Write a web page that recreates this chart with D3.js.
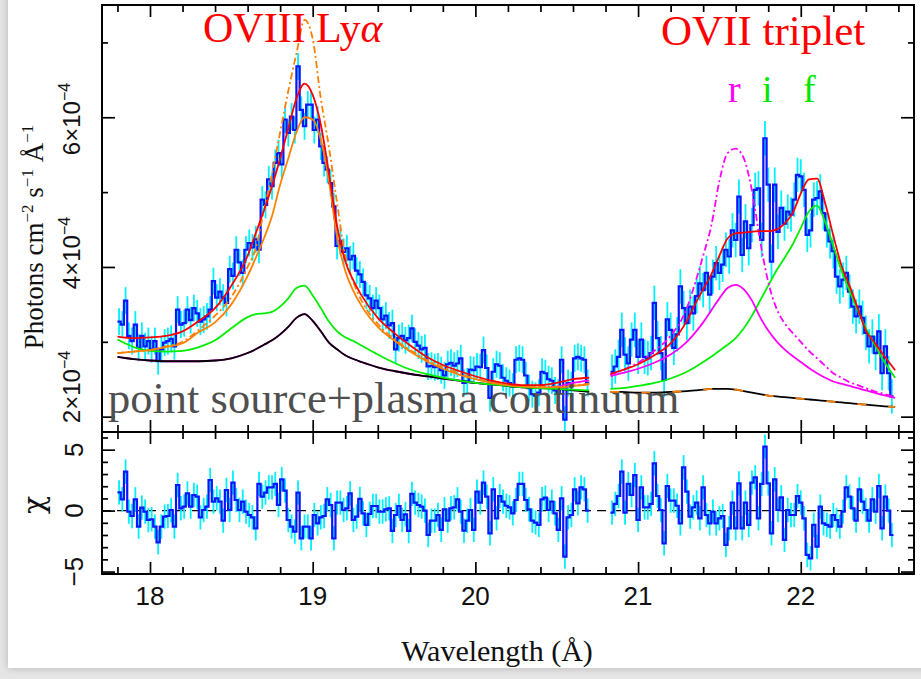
<!DOCTYPE html>
<html><head><meta charset="utf-8">
<script src="https://cdn.jsdelivr.net/npm/d3@7"></script>
<style>body{margin:0;background:#e4e4e4}svg{display:block}</style>
</head><body>
<svg id="c" width="921" height="679"></svg>
<script>
// ---------------- DATA ----------------
const binWidth = 0.02;           // Å
const seg1Start = 17.80, seg2Start = 20.83;
// observed flux, units of 1e-4 photons cm^-2 s^-1 Å^-1
const flux1 = [
3.27,3.23,3.55,3.08,3.01,3.23,2.92,3.08,2.94,3.01,
2.90,3.01,2.74,2.90,2.99,3.01,3.04,2.94,3.43,3.23,
3.25,3.43,3.29,3.45,3.38,3.27,3.30,3.34,3.43,3.81,
3.59,3.67,3.59,3.52,3.97,3.88,4.23,4.06,3.92,4.23,
4.32,4.26,4.37,4.23,4.90,4.83,5.17,5.08,5.39,5.52,
5.37,5.97,5.79,6.01,5.83,6.68,6.10,5.88,6.17,6.17,
5.83,5.97,5.61,5.39,5.30,5.12,4.81,4.28,
4.35,4.20,4.25,4.10,4.15,3.95,3.90,3.80,3.62,3.58,
3.45,3.55,3.45,3.30,3.35,3.22,3.25,2.90,3.05,3.08,
3.02,3.05,3.18,3.00,2.95,2.90,2.92,2.67,2.68,2.66,
2.67,2.62,2.55,2.70,2.72,2.68,2.71,2.78,2.45,2.47,
2.63,2.62,2.67,2.66,2.89,2.65,2.25,2.60,2.70,2.68,
2.52,2.48,2.45,2.40,2.76,2.78,2.76,2.55,2.38,2.30,
2.28,2.32,2.60,2.58,2.50,2.48,2.35,2.32,2.76,1.96,
2.45,2.42,2.78,2.80,2.78,2.76,2.45];
const flux2 = [
2.60,2.67,2.80,3.16,2.83,2.71,3.03,3.16,2.80,3.03,
2.80,2.78,2.85,3.52,3.05,2.85,2.49,3.30,3.16,2.92,
3.10,3.74,3.45,3.25,3.47,3.38,3.61,3.78,3.69,3.92,
3.63,3.87,4.05,3.92,4.03,4.23,4.14,4.49,4.36,4.94,
4.16,4.61,4.25,4.56,5.03,5.05,4.36,5.72,5.10,4.07,
5.10,4.47,4.79,4.58,4.74,4.70,4.90,5.23,5.21,5.03,
4.43,4.49,4.90,4.92,5.01,4.72,4.49,4.34,4.21,3.87,
3.74,3.83,3.92,3.67,3.47,3.34,3.47,3.32,3.12,2.94,
3.07,2.85,3.14,2.58,2.94,2.58,2.27];
const fluxErr1 = 0.18, fluxErr2 = 0.23;
// residuals (chi)
const chi1 = [
1.50,0.93,3.20,-0.08,-0.44,0.93,-1.31,0.25,-0.08,-0.77,
-0.71,-1.31,-2.60,-1.31,-0.49,-0.44,0.05,-1.31,2.10,0.19,
0.33,1.42,0.33,1.28,1.15,-0.55,0.05,0.33,2.51,0.74,
1.01,0.74,-0.82,1.69,0.05,2.30,0.87,0.05,0.74,-0.08,
-0.36,-0.55,-1.45,2.19,1.15,1.48,1.91,1.91,2.19,0.46,
2.57,1.64,-0.77,-1.31,-1.72,1.48,-2.27,-1.31,-1.31,-2.27,
-0.36,-1.04,-0.55,-0.44,0.93,0.46,-2.27,0.66,
0.66,0.05,0.19,1.42,-0.77,-0.49,0.96,-0.22,-1.17,-0.27,
0.38,0.38,-0.08,-0.08,0.11,0.19,-1.67,-0.36,0.38,-0.77,
-0.30,-1.67,1.37,0.66,0.46,0.33,0.00,-2.00,-0.82,-0.82,
-0.36,-1.58,0.11,-0.82,0.19,0.27,0.93,-0.08,-1.64,-0.82,
0.05,-1.58,1.56,0.66,2.30,1.15,-1.86,1.75,-0.63,1.20,
0.74,0.40,0.27,-0.22,0.87,2.19,2.19,0.87,0.11,-0.82,
-0.98,-1.17,0.93,1.07,0.05,0.74,-0.22,-1.58,1.01,-3.77,
-0.55,-0.36,1.75,0.60,1.91,1.75,0.00];
const chi2 = [
-0.16,0.55,1.20,3.20,-0.16,2.19,1.28,2.92,-0.77,1.91,
0.27,0.27,0.55,3.88,1.20,0.05,-2.68,2.02,0.82,0.82,
0.40,-1.04,3.55,1.56,-0.49,0.27,0.66,-0.63,1.91,-0.36,
-1.04,-0.08,-1.04,-0.63,-0.44,-2.81,-1.45,0.66,-1.45,2.24,
-1.45,0.66,-1.17,2.30,2.73,-0.63,2.19,5.25,2.24,-1.86,
2.57,0.05,1.09,-2.40,0.05,-0.36,-0.36,1.20,0.66,-0.63,
-3.63,-3.91,-1.17,-2.95,0.33,-1.04,-1.17,-1.31,-0.36,-0.77,
-1.31,-0.08,1.91,1.15,0.19,-0.82,1.75,0.74,0.05,-0.82,
0.93,-0.08,2.02,-1.45,1.15,0.00,-2.00];

// model components (OVIII region)
const modelWave1 = [17.80,17.90,18.00,18.10,18.20,18.30,18.40,18.50,18.60,18.65,18.70,18.75,18.80,18.85,18.90,18.95,19.00,19.05,19.10,19.15,19.20,19.25,19.30,19.40,19.50,19.60,19.70,19.80,19.90,20.00,20.10,20.20,20.30,20.40,20.50,20.60,20.70];
const total1   = [3.07,3.05,3.06,3.08,3.14,3.28,3.45,3.75,4.15,4.45,4.75,5.08,5.45,5.85,6.25,6.45,6.30,5.90,5.25,4.55,4.08,3.82,3.62,3.32,3.12,2.95,2.80,2.69,2.61,2.54,2.48,2.44,2.42,2.42,2.45,2.50,2.52];
const orange1  = [2.85,2.87,2.89,2.93,2.98,3.13,3.26,3.50,3.88,4.12,4.38,4.68,5.10,5.45,5.80,6.00,5.97,5.70,5.15,4.40,3.95,3.68,3.48,3.20,3.02,2.87,2.74,2.64,2.56,2.50,2.45,2.42,2.40,2.39,2.39,2.41,2.43];
const orangeDD1= [2.85,2.87,2.89,2.94,3.00,3.16,3.35,3.60,4.00,4.25,4.75,5.25,5.80,6.35,6.85,7.30,7.05,6.25,5.60,4.85,4.15,3.80,3.55,3.24,3.04,2.89,2.76,2.66,2.58,2.51,2.46,2.43,2.41,2.40,2.40,2.42,2.44];
const green1   = [3.03,2.93,2.88,2.87,2.88,2.93,3.02,3.18,3.33,3.37,3.38,3.40,3.47,3.58,3.72,3.75,3.62,3.45,3.27,3.14,3.06,3.01,2.95,2.83,2.72,2.63,2.57,2.52,2.48,2.45,2.43,2.41,2.39,2.38,2.37,2.36,2.35];
const magenta1 = [2.80,2.77,2.75,2.74,2.74,2.74,2.75,2.78,2.85,2.90,2.96,3.02,3.10,3.20,3.32,3.37,3.28,3.14,2.99,2.90,2.82,2.77,2.73,2.66,2.61,2.57,2.54,2.51,2.48,2.45,2.43,2.41,2.39,2.38,2.40,2.45,2.48];
const black1   = [2.80,2.77,2.75,2.74,2.74,2.74,2.75,2.78,2.85,2.90,2.96,3.02,3.10,3.20,3.32,3.37,3.28,3.14,2.99,2.90,2.82,2.77,2.73,2.66,2.61,2.57,2.54,2.51,2.48,2.45,2.43,2.41,2.39,2.38,2.37,2.35,2.33];
// model components (OVII triplet region)
const modelWave2 = [20.83,20.90,21.00,21.10,21.20,21.30,21.35,21.40,21.45,21.50,21.55,21.60,21.65,21.70,21.75,21.80,21.85,21.90,21.95,22.00,22.05,22.10,22.15,22.20,22.25,22.30,22.35,22.40,22.45,22.50,22.58];
const total2     = [2.57,2.62,2.70,2.82,2.98,3.28,3.50,3.70,3.90,4.15,4.38,4.45,4.46,4.47,4.48,4.48,4.50,4.58,4.72,4.98,5.17,5.18,4.85,4.42,4.02,3.75,3.45,3.15,3.00,2.85,2.62];
const green2     = [2.37,2.38,2.41,2.45,2.51,2.60,2.66,2.73,2.80,2.88,2.96,3.05,3.18,3.35,3.55,3.75,3.95,4.12,4.30,4.52,4.74,4.82,4.60,4.28,3.95,3.68,3.42,3.18,2.98,2.78,2.52];
const magenta2   = [2.54,2.58,2.64,2.72,2.83,3.00,3.12,3.26,3.42,3.58,3.72,3.76,3.70,3.55,3.33,3.15,3.01,2.90,2.81,2.73,2.65,2.58,2.52,2.47,2.44,2.41,2.38,2.35,2.32,2.29,2.25];
const magentaDD2 = [2.56,2.62,2.72,2.88,3.08,3.45,3.78,4.15,4.55,5.15,5.52,5.58,5.45,5.02,4.35,3.80,3.45,3.25,3.12,3.00,2.88,2.78,2.68,2.58,2.52,2.46,2.42,2.38,2.34,2.31,2.27];
const black2     = [2.33,2.33,2.32,2.32,2.33,2.34,2.35,2.36,2.37,2.37,2.37,2.36,2.34,2.32,2.30,2.28,2.27,2.26,2.25,2.24,2.23,2.22,2.21,2.20,2.19,2.18,2.17,2.16,2.15,2.14,2.13];
const orange2    = [2.33,2.33,2.32,2.32,2.33,2.34,2.35,2.36,2.37,2.37,2.37,2.36,2.34,2.32,2.30,2.28,2.27,2.26,2.25,2.24,2.23,2.22,2.21,2.20,2.19,2.18,2.17,2.16,2.15,2.14,2.13];

const xMajorTicks = [18,19,20,21,22];
const fluxTickLabels = [2,4,6];
const chiTickLabels = [-5,0,5];

// ---------------- LAYOUT ----------------
const W = 921, H = 679;
const L = 102, R = 914, T = 5, M = 432, B = 574;
const svg = d3.select('#c');
const defs = svg.append('defs');
const f = defs.append('filter').attr('id','sh').attr('x','-5%').attr('y','-5%').attr('width','110%').attr('height','110%');
f.append('feDropShadow').attr('dx',0).attr('dy',0).attr('stdDeviation',4).attr('flood-color','#888').attr('flood-opacity',0.55);
svg.append('rect').attr('width',W).attr('height',H).attr('fill','#e6e6e6');
svg.append('rect').attr('x',8).attr('y',-30).attr('width',W+30).attr('height',698).attr('fill','#fff').attr('filter','url(#sh)');

const x = d3.scaleLinear().domain([17.705, 22.696]).range([L, R]);
const yU = d3.scaleLinear().domain([1.795, 7.50]).range([M, T]);
const yL = d3.scaleLinear().domain([-5.2, 6.45]).range([B, M]);
const fluxLabelScale = d3.scaleLinear().domain([2, 6]).range([387, 119]);

defs.append('clipPath').attr('id','cu').append('rect').attr('x',L).attr('y',T).attr('width',R-L).attr('height',M-T);
defs.append('clipPath').attr('id','cl').append('rect').attr('x',L).attr('y',M).attr('width',R-L).attr('height',B-M);

const gU = svg.append('g').attr('clip-path','url(#cu)');
const gL = svg.append('g').attr('clip-path','url(#cl)');

function stepPts(start, vals){
  const p = vals.map((v,i)=>[start + i*binWidth, v]);
  p.push([start + vals.length*binWidth, vals[vals.length-1]]);
  return p;
}
function drawData(g, ys, start, vals, err){
  g.append('g').selectAll('line').data(vals).join('line')
    .attr('x1',(d,i)=>x(start+(i+0.5)*binWidth)).attr('x2',(d,i)=>x(start+(i+0.5)*binWidth))
    .attr('y1',d=>ys(d - err)).attr('y2',d=>ys(d + err))
    .attr('stroke','#00f0ff').attr('stroke-width',1.8);
}
function drawStep(g, ys, start, vals){
  g.append('path').attr('d', d3.line().x(d=>x(d[0])).y(d=>ys(d[1])).curve(d3.curveStepAfter)(stepPts(start, vals)))
    .attr('fill','none').attr('stroke','#0a14ff').attr('stroke-width',2.2);
}
function drawModel(g, waves, vals, color, dash, w){
  const pts = waves.map((wv,i)=>[wv, vals[i]]);
  const p = g.append('path').attr('d', d3.line().x(d=>x(d[0])).y(d=>yU(d[1])).curve(d3.curveMonotoneX)(pts))
    .attr('fill','none').attr('stroke',color).attr('stroke-width',w||1.8);
  if (dash) p.attr('stroke-dasharray',dash);
}

// upper panel data
drawData(gU, yU, seg1Start, flux1, fluxErr1);
drawData(gU, yU, seg2Start, flux2, fluxErr2);
drawStep(gU, yU, seg1Start, flux1);
drawStep(gU, yU, seg2Start, flux2);

// models segment 1
drawModel(gU, modelWave1, magenta1, '#ff00ff');
drawModel(gU, modelWave1, black1, '#000');
drawModel(gU, modelWave1, green1, '#00ee00');
drawModel(gU, modelWave1, orange1, '#ff8000');
drawModel(gU, modelWave1, orangeDD1, '#ff8000', '7,3,2,3');
drawModel(gU, modelWave1, total1, '#ff0000');
// models segment 2
drawModel(gU, modelWave2, black2, '#000');
drawModel(gU, modelWave2, orange2, '#ff8000', '9,22');
drawModel(gU, modelWave2, green2, '#00ee00');
drawModel(gU, modelWave2, magenta2, '#ff00ff');
drawModel(gU, modelWave2, magentaDD2, '#ff00ff', '7,3,2,3');
drawModel(gU, modelWave2, total2, '#ff0000');

// lower panel
gL.append('line').attr('x1',x(17.705)).attr('x2',x(22.6)).attr('y1',yL(0)).attr('y2',yL(0))
  .attr('stroke','#000').attr('stroke-width',1.4).attr('stroke-dasharray','9,6');
drawData(gL, yL, seg1Start, chi1, 1);
drawData(gL, yL, seg2Start, chi2, 1);
drawStep(gL, yL, seg1Start, chi1);
drawStep(gL, yL, seg2Start, chi2);

// ---------------- AXES ----------------
function tickSet(axisFn, scale, vals, size, tr){
  svg.append('g').attr('transform',tr)
    .call(axisFn(scale).tickValues(vals).tickSize(size).tickFormat(''))
    .call(g=>g.select('.domain').remove())
    .selectAll('line').attr('stroke','#000').attr('stroke-width',1.7);
}
const xMinor = d3.range(89,114).filter(k=>k%5!==0).map(k=>k/5);
[[d3.axisBottom, T],[d3.axisTop, M],[d3.axisBottom, M],[d3.axisTop, B]].forEach(([fn, yy])=>{
  tickSet(fn, x, xMajorTicks, 12, `translate(0,${yy})`);
  tickSet(fn, x, xMinor, 7, `translate(0,${yy})`);
});
const yMinorU = [3,5,7];
tickSet(d3.axisRight, yU, fluxTickLabels, 13, `translate(${L},0)`);
tickSet(d3.axisRight, yU, yMinorU, 6, `translate(${L},0)`);
tickSet(d3.axisLeft, yU, fluxTickLabels, 13, `translate(${R},0)`);
tickSet(d3.axisLeft, yU, yMinorU, 6, `translate(${R},0)`);
const yMinorL = [-4,-3,-2,-1,1,2,3,4,6];
tickSet(d3.axisRight, yL, chiTickLabels, 13, `translate(${L},0)`);
tickSet(d3.axisRight, yL, yMinorL, 6, `translate(${L},0)`);
tickSet(d3.axisLeft, yL, chiTickLabels, 13, `translate(${R},0)`);
tickSet(d3.axisLeft, yL, yMinorL, 6, `translate(${R},0)`);

// frames
svg.append('rect').attr('x',L).attr('y',T).attr('width',R-L).attr('height',B-T).attr('fill','none').attr('stroke','#000').attr('stroke-width',2);
svg.append('line').attr('x1',L).attr('x2',R).attr('y1',M).attr('y2',M).attr('stroke','#000').attr('stroke-width',2);

// tick labels
const sans = "'Liberation Sans', Arial, sans-serif";
const serif = "'Liberation Serif', 'Times New Roman', serif";
svg.append('g').selectAll('text').data(xMajorTicks).join('text')
  .attr('x',d=>x(d)).attr('y',605).attr('text-anchor','middle')
  .attr('font-family',sans).attr('font-size',26).attr('fill','#111').text(d=>d);

fluxTickLabels.forEach(v=>{
  const t = svg.append('text').attr('transform',`translate(80,${fluxLabelScale(v)}) rotate(-90)`)
    .attr('text-anchor','middle').attr('font-family',sans).attr('font-size',24).attr('fill','#111');
  t.append('tspan').text(v+'×10');
  t.append('tspan').attr('dy',-10).attr('font-size',16).text('−4');
});
chiTickLabels.forEach(v=>{
  svg.append('text').attr('transform',`translate(83,${yL(v)}) rotate(-90)`)
    .attr('text-anchor','middle').attr('font-family',sans).attr('font-size',26).attr('fill','#111')
    .text(v<0 ? '−'+Math.abs(v) : String(v));
});

// axis titles
const yt = svg.append('text').attr('transform','translate(43,237) rotate(-90)')
  .attr('text-anchor','middle').attr('font-family',serif).attr('font-size',27).attr('fill','#111');
yt.append('tspan').text('Photons cm');
yt.append('tspan').attr('dy',-10).attr('font-size',17).text('−2');
yt.append('tspan').attr('dy',10).text(' s');
yt.append('tspan').attr('dy',-10).attr('font-size',17).text('−1');
yt.append('tspan').attr('dy',10).text(' Å');
yt.append('tspan').attr('dy',-10).attr('font-size',17).text('−1');

svg.append('text').attr('transform','translate(44,505) rotate(-90)').attr('text-anchor','middle')
  .attr('font-family',"'DejaVu Serif', serif").attr('font-size',30).attr('fill','#111').text('χ');

svg.append('text').attr('x',497).attr('y',661).attr('text-anchor','middle')
  .attr('font-family',serif).attr('font-size',30).attr('fill','#111').text('Wavelength (Å)');

// annotations
const t1 = svg.append('text').attr('x',203).attr('y',42).attr('font-family',serif).attr('font-size',42).attr('fill','#ff0000');
t1.append('tspan').text('OVIII Ly');
t1.append('tspan').attr('font-style','italic').text('α');
svg.append('text').attr('x',661).attr('y',45).attr('font-family',serif).attr('font-size',43).attr('fill','#ff0000').text('OVII triplet');
svg.append('text').attr('x',728).attr('y',102).attr('font-family',serif).attr('font-size',38).attr('fill','#ff00ff').text('r');
svg.append('text').attr('x',762).attr('y',102).attr('font-family',serif).attr('font-size',38).attr('fill','#00e600').text('i');
svg.append('text').attr('x',803).attr('y',102).attr('font-family',serif).attr('font-size',38).attr('fill','#00e600').text('f');
svg.append('text').attr('x',108).attr('y',413).attr('font-family',serif).attr('font-size',44.5).attr('fill','#4f4f4f').text('point source+plasma continuum');
</script>
</body></html>
